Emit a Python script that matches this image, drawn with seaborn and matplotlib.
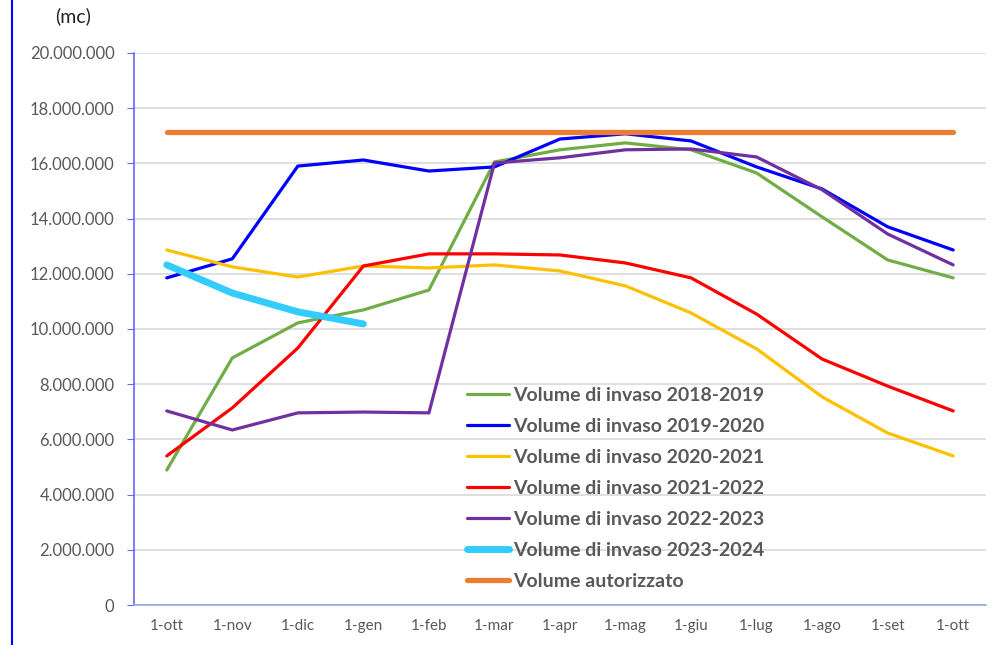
import matplotlib.pyplot as plt
import matplotlib.lines as mlines
import matplotlib.ticker as mticker
import seaborn as sns
import pandas as pd

mesi = ["1-ott", "1-nov", "1-dic", "1-gen", "1-feb", "1-mar", "1-apr",
        "1-mag", "1-giu", "1-lug", "1-ago", "1-set", "1-ott"]

v_2018_2019 = [4.89e6, 8.95e6, 10.22e6, 10.69e6, 11.41e6, 16.05e6, 16.49e6,
               16.74e6, 16.49e6, 15.65e6, 14.06e6, 12.50e6, 11.85e6]
v_2019_2020 = [11.85e6, 12.54e6, 15.90e6, 16.12e6, 15.72e6, 15.87e6, 16.88e6,
               17.07e6, 16.81e6, 15.87e6, 15.07e6, 13.70e6, 12.86e6]
v_2020_2021 = [12.86e6, 12.25e6, 11.88e6, 12.28e6, 12.21e6, 12.32e6, 12.10e6,
               11.56e6, 10.58e6, 9.28e6, 7.54e6, 6.23e6, 5.40e6]
v_2021_2022 = [5.40e6, 7.14e6, 9.31e6, 12.28e6, 12.72e6, 12.72e6, 12.68e6,
               12.39e6, 11.85e6, 10.54e6, 8.91e6, 7.93e6, 7.03e6]
v_2022_2023 = [7.03e6, 6.34e6, 6.96e6, 6.99e6, 6.96e6, 16.01e6, 16.20e6,
               16.49e6, 16.52e6, 16.23e6, 15.04e6, 13.44e6, 12.32e6]
v_2023_2024 = [12.32e6, 11.30e6, 10.62e6, 10.18e6]
v_autorizzato = [17.14e6] * 13

serie = [
    ("Volume di invaso 2018-2019", v_2018_2019, "#70AD47", 2.3),
    ("Volume di invaso 2019-2020", v_2019_2020, "#0000FF", 2.3),
    ("Volume di invaso 2020-2021", v_2020_2021, "#FFC000", 2.3),
    ("Volume di invaso 2021-2022", v_2021_2022, "#FF0000", 2.3),
    ("Volume di invaso 2022-2023", v_2022_2023, "#7030A0", 2.3),
    ("Volume di invaso 2023-2024", v_2023_2024, "#33CCFF", 5.0),
    ("Volume autorizzato", v_autorizzato, "#ED7D31", 3.8),
]

sns.set_style("white")
plt.rcParams['font.family'] = ['Lato', 'DejaVu Sans']
grigio = "#595959"

fig = plt.figure(figsize=(10.03, 6.45), dpi=100)
ax = fig.add_axes([0.1336, 0.062, 0.8494, 0.856])

for nome, valori, colore, lw in serie:
    df = pd.DataFrame({"x": range(len(valori)), "y": valori})
    sns.lineplot(data=df, x="x", y="y", ax=ax, color=colore, linewidth=lw,
                 label=nome, sort=False, solid_capstyle="round")

ax.set_xlim(-0.5, 12.5)
ax.set_ylim(0, 20e6)
ax.yaxis.set_major_locator(mticker.MultipleLocator(2e6))
ax.yaxis.set_major_formatter(mticker.FuncFormatter(
    lambda v, p: f"{int(v):,}".replace(",", ".")))

# categorie tra i segni di graduazione, come in Excel
ax.set_xticks([i - 0.5 for i in range(14)])
ax.set_xticklabels([])
ax.set_xticks(range(13), minor=True)
ax.set_xticklabels(mesi, minor=True)
ax.tick_params(axis="x", which="major", length=5, color="#8FAADC", direction="out")
ax.tick_params(axis="x", which="minor", length=0, pad=10, labelsize=11, labelcolor=grigio)
ax.tick_params(axis="y", length=5, color="#6666FF", direction="out", labelsize=12,
               labelcolor=grigio, left=True, pad=9)
ax.set_xlabel("")
ax.set_ylabel("")

ax.grid(axis="y", color="#D9D9D9", linewidth=1.2)
ax.set_axisbelow(True)
for s in ["top", "right"]:
    ax.spines[s].set_visible(False)
ax.spines["left"].set_color("#6666FF")
ax.spines["bottom"].set_color("#8FAADC")
ax.spines["left"].set_linewidth(1.2)
ax.spines["bottom"].set_linewidth(1.2)

leg = ax.legend(loc="lower left", bbox_to_anchor=(0.370, -0.004), frameon=False,
                handlelength=2.2, handletextpad=0.2, labelspacing=0.72,
                prop={"weight": "bold", "size": 14})
for t in leg.get_texts():
    t.set_color(grigio)

fig.text(0.073, 0.975, "(mc)", fontsize=14, color="#222222", ha="center", va="center")
fig.add_artist(mlines.Line2D([0.012, 0.012], [0, 1], color="#0000FF", linewidth=1.5))

plt.savefig("out.png", dpi=100)
